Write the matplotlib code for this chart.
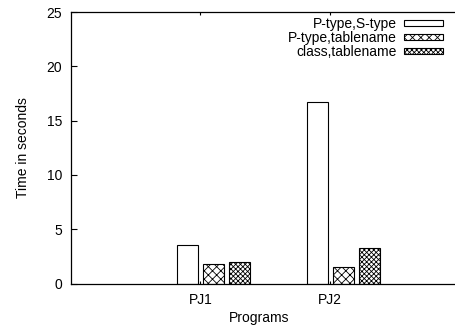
import numpy as np
import matplotlib.pyplot as plt

# data
programs = ["PJ1", "PJ2"]
series = ["P-type,S-type", "P-type,tablename", "class,tablename"]
pstype = [3.57, 16.72]
ptable = [1.78, 1.48]
ctable = [1.94, 3.23]

plt.rcParams['font.family'] = ['Liberation Sans', 'DejaVu Sans']
plt.rcParams['font.size'] = 10
plt.rcParams['hatch.linewidth'] = 0.6

fig = plt.figure(figsize=(4.55, 3.29), dpi=100)
# axes run past the right edge, as in the original (cropped) picture
ax = fig.add_axes([70.5 / 455, 1 - 283.5 / 329, (460 - 70.5) / 455, (283.5 - 12) / 329])

x = np.arange(len(programs))
w = 0.16
offsets = [-0.1, 0.1, 0.3]
hatches = ['', 'xxxx', 'xxxxxxx']
for vals, off, h, name in zip([pstype, ptable, ctable], offsets, hatches, series):
    ax.bar(x + off, vals, w, color='white', edgecolor='black', linewidth=0.8,
           hatch=h, label=name)

ax.set_xlim(-1, 2)
ax.set_ylim(0, 25)
ax.set_yticks([0, 5, 10, 15, 20, 25])
ax.set_xticks(x)
ax.set_xticklabels(programs)
ax.tick_params(direction='in', length=4, width=0.8, top=True, right=False)
ax.tick_params(axis='x', length=2, pad=7)
ax.tick_params(axis='y', pad=6)
for s in ax.spines.values():
    s.set_linewidth(0.9)

ax.set_ylabel("Time in seconds", labelpad=12)
fig.text(259 / 455, 1 - 318 / 329, "Programs", ha='center', va='center')

leg = ax.legend(loc='upper right', bbox_to_anchor=(443 / 455, 1 - 17 / 329),
                bbox_transform=fig.transFigure, frameon=False, markerfirst=False,
                handlelength=2.8, handleheight=0.38, labelspacing=0.0,
                handletextpad=0.5, borderaxespad=0, borderpad=0)

fig.savefig("out.png", dpi=100)
